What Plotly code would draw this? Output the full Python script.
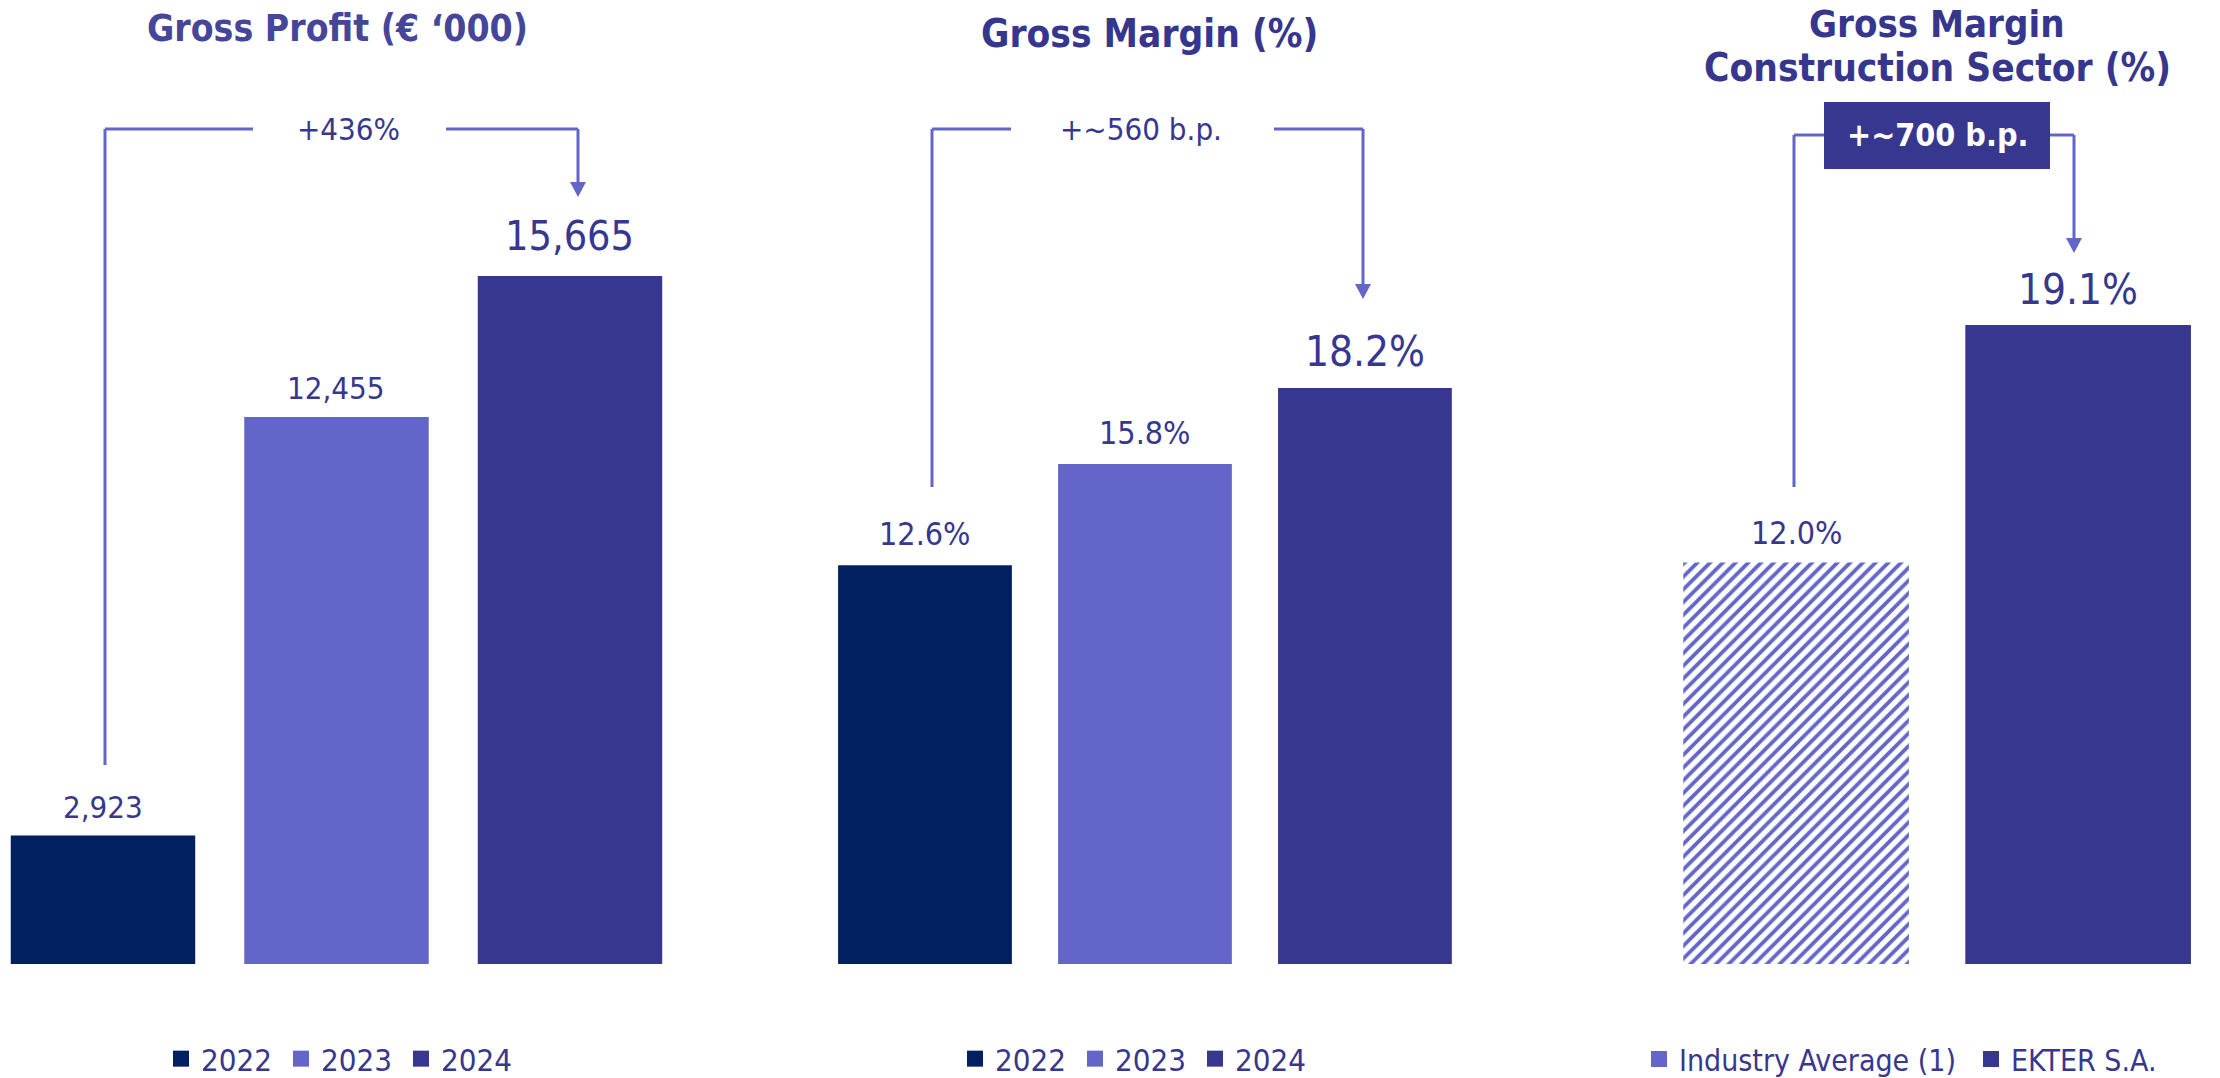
import plotly.graph_objects as go

# ---------------- data ----------------
years = ["2022", "2023", "2024"]
gross_profit = [2923, 12455, 15665]
gross_profit_labels = ["2,923", "12,455", "15,665"]
gross_margin = [12.6, 15.8, 18.2]
gross_margin_labels = ["12.6%", "15.8%", "18.2%"]
sector_cats = ["Industry Average (1)", "EKTER S.A."]
sector_margin = [12.0, 19.1]
sector_labels = ["12.0%", "19.1%"]
titles = ["<b>Gross Profit (€ ‘000)</b>", "<b>Gross Margin (%)</b>",
          "<b>Gross Margin</b>", "<b>Construction Sector (%)</b>"]
growth_labels = ["+436%", "+~560 b.p.", "<b>+~700 b.p.</b>"]

# ---------------- style ----------------
W, H = 2220, 1078
FONT = "DejaVu Sans Condensed, DejaVu Sans, sans-serif"
year_colors = ["#00205F", "#6366C8", "#37378F"]
sector_colors = ["#6366C8", "#37378F"]
TXT = "#37378F"
LINE = "#6366C8"


def px(x):
    return x / W


def py(y):
    return 1 - y / H


fig = go.Figure()
idx3 = list(range(len(years)))
idx2 = list(range(len(sector_cats)))

# panel 1 and 2 bars
for ax, vals in (("", gross_profit), ("2", gross_margin)):
    for i, yr in enumerate(years):
        fig.add_trace(go.Bar(x=[yr], y=[vals[i]], name=yr, marker_color=year_colors[i],
                             marker_line_width=0, width=0.79, xaxis="x" + ax, yaxis="y" + ax,
                             showlegend=False, hoverinfo="skip"))
# panel 3 bars
fig.add_trace(go.Bar(x=[sector_cats[0]], y=[sector_margin[0]], name=sector_cats[0],
                     marker=dict(color="white", line_width=0,
                                 pattern=dict(shape="/", fgcolor=sector_colors[0], bgcolor="white",
                                              size=9, solidity=0.42)),
                     width=0.8, xaxis="x3", yaxis="y3", showlegend=False, hoverinfo="skip"))
fig.add_trace(go.Bar(x=[sector_cats[1]], y=[sector_margin[1]], name=sector_cats[1],
                     marker_color=sector_colors[1], marker_line_width=0, width=0.8,
                     xaxis="x3", yaxis="y3", showlegend=False, hoverinfo="skip"))

# legend entries (square swatches)
for ax, lg in (("", "legend"), ("2", "legend2")):
    for i, yr in enumerate(years):
        fig.add_trace(go.Scatter(x=[None], y=[None], mode="markers", name=yr,
                                 marker=dict(symbol="square", size=16, color=year_colors[i]),
                                 xaxis="x" + ax, yaxis="y" + ax, legend=lg, hoverinfo="skip"))
for i, (c, lg) in enumerate(zip(sector_cats, ("legend3", "legend4"))):
    fig.add_trace(go.Scatter(x=[None], y=[None], mode="markers", name=c,
                             marker=dict(symbol="square", size=16, color=sector_colors[i]),
                             xaxis="x3", yaxis="y3", legend=lg, hoverinfo="skip"))

annotations = []
# value labels
big = [False, False, True]
for i in idx3:
    annotations.append(dict(x=i, y=gross_profit[i], xref="x", yref="y", text=gross_profit_labels[i],
                            showarrow=False, xanchor="center", yanchor="middle",
                            yshift=40 if big[i] else 29,
                            font=dict(size=41 if big[i] else 31, color=TXT, family=FONT)))
    annotations.append(dict(x=i, y=gross_margin[i], xref="x2", yref="y2", text=gross_margin_labels[i],
                            showarrow=False, xanchor="center", yanchor="middle",
                            yshift=36 if big[i] else 31,
                            font=dict(size=42 if big[i] else 32, color=TXT, family=FONT)))
for i in idx2:
    annotations.append(dict(x=i, y=sector_margin[i], xref="x3", yref="y3", text=sector_labels[i],
                            showarrow=False, xanchor="center", yanchor="middle",
                            yshift=35 if i == 1 else 29,
                            font=dict(size=42 if i == 1 else 32, color=TXT, family=FONT)))

# titles
for t, cx, cy, col, sz, ya in [(titles[0], 337, 28, "#45459A", 37, "middle"),
                               (titles[1], 1149, 34, "#36368E", 38.5, "middle"),
                               (titles[2], 1937, 0, "#36368E", 38, "top"),
                               (titles[3], 1937, 68, "#36368E", 38.5, "middle")]:
    annotations.append(dict(x=px(cx), y=py(cy), xref="paper", yref="paper", text=t, showarrow=False,
                            xanchor="center", yanchor=ya,
                            font=dict(size=sz, color=col, family=FONT)))

# growth labels
for t, cx, cy, col, sz in [(growth_labels[0], 348, 129, TXT, 31), (growth_labels[1], 1141, 129, TXT, 31),
                           (growth_labels[2], 1937, 135, "white", 32)]:
    annotations.append(dict(x=px(cx), y=py(cy), xref="paper", yref="paper", text=t, showarrow=False,
                            xanchor="center", yanchor="middle",
                            font=dict(size=sz, color=col, family=FONT)))

shapes = []


def seg(x0, y0, x1, y1):
    shapes.append(dict(type="line", xref="paper", yref="paper", x0=px(x0), y0=py(y0),
                       x1=px(x1), y1=py(y1), line=dict(color=LINE, width=3)))


def tri(x, ytop, h=15, hw=8):
    path = f"M {px(x-hw)} {py(ytop)} L {px(x+hw)} {py(ytop)} L {px(x)} {py(ytop+h)} Z"
    shapes.append(dict(type="path", xref="paper", yref="paper", path=path,
                       fillcolor=LINE, line=dict(width=0)))


# bracket 1
seg(105, 765, 105, 129); seg(105, 129, 253, 129); seg(446, 129, 578, 129); seg(578, 129, 578, 183)
tri(578, 182)
# bracket 2
seg(932, 487, 932, 129); seg(932, 129, 1011, 129); seg(1274, 129, 1363, 129); seg(1363, 129, 1363, 285)
tri(1363, 284)
# bracket 3
seg(1794, 487, 1794, 135); seg(1794, 135, 1824, 135); seg(2050, 135, 2074, 135); seg(2074, 135, 2074, 239)
tri(2074, 238)
shapes.append(dict(type="rect", xref="paper", yref="paper", x0=px(1824), x1=px(2050),
                   y0=py(169), y1=py(102), fillcolor="#37378F", line=dict(width=0)))

ydom = [py(964), 1]
axis_off = dict(visible=False, showgrid=False, zeroline=False, fixedrange=True)


def leg(x, size=31, ew=None):
    d = dict(orientation="h", x=px(x), y=py(1059), xanchor="left", yanchor="middle",
             font=dict(size=size, color=TXT, family=FONT), bgcolor="rgba(0,0,0,0)",
             itemclick=False, itemdoubleclick=False)
    if ew:
        d.update(entrywidth=ew, entrywidthmode="pixels")
    return d


fig.update_layout(
    width=W, height=H, margin=dict(l=0, r=0, t=0, b=0, autoexpand=False),
    paper_bgcolor="white", plot_bgcolor="rgba(0,0,0,0)",
    barmode="overlay", template="none",
    font=dict(family=FONT, color=TXT),
    xaxis=dict(axis_off, domain=[0, px(700)], range=[-0.4411, 2.5568], type="category", anchor="y"),
    yaxis=dict(axis_off, domain=ydom, range=[0, 964 / 0.04392], anchor="x"),
    xaxis2=dict(axis_off, domain=[px(760), px(1480)], range=[-0.75, 2.523], type="category", anchor="y2"),
    yaxis2=dict(axis_off, domain=ydom, range=[0, 964 / 31.65], anchor="x2"),
    xaxis3=dict(axis_off, domain=[px(1560), 1], range=[-0.837, 1.503], type="category", anchor="y3"),
    yaxis3=dict(axis_off, domain=ydom, range=[0, 964 / 33.46], anchor="x3"),
    legend=leg(161, ew=75),
    legend2=leg(955, ew=75),
    legend3=leg(1639, size=30),
    legend4=leg(1971, size=30),
    annotations=annotations, shapes=shapes, showlegend=True,
)

fig.write_html("out.html", config={"displayModeBar": False},
               post_script="document.body.style.margin='0px';")
